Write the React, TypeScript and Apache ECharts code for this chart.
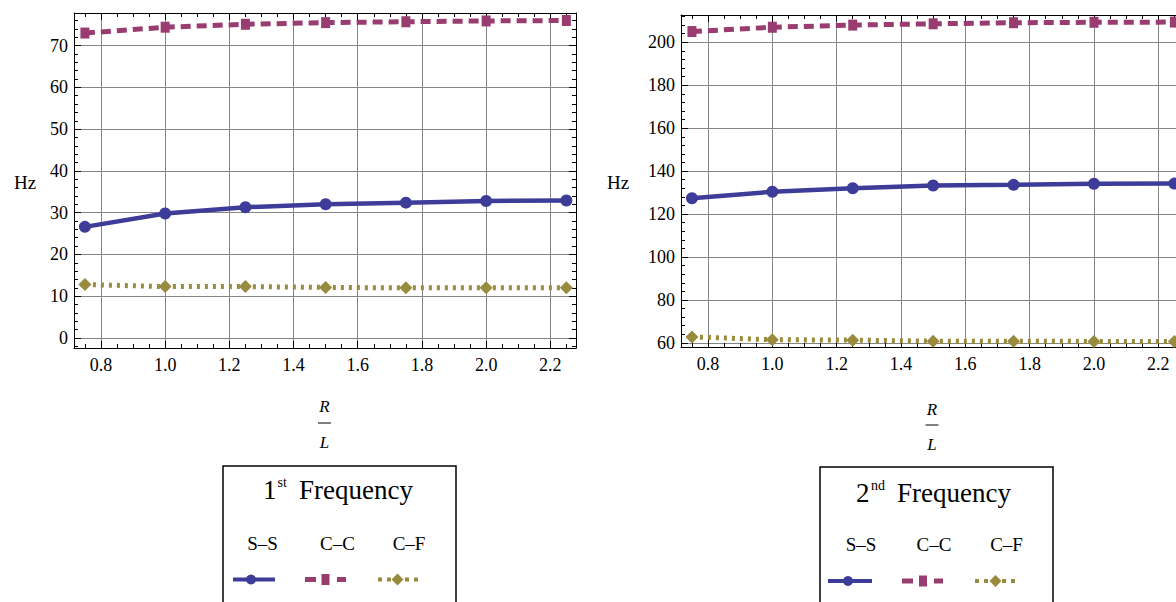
import React, { useEffect, useRef } from "react";
import * as echarts from "echarts";

const ratios = [0.75, 1.0, 1.25, 1.5, 1.75, 2.0, 2.25];
const f1SS = [26.6, 29.8, 31.3, 32.0, 32.4, 32.8, 32.9];
const f1CC = [73.0, 74.4, 75.1, 75.5, 75.7, 75.9, 76.0];
const f1CF = [12.8, 12.3, 12.3, 12.1, 12.0, 12.0, 12.0];
const f2SS = [127.4, 130.4, 132.0, 133.3, 133.6, 134.1, 134.2];
const f2CC = [205.0, 207.0, 208.0, 208.6, 209.1, 209.3, 209.4];
const f2CF = [62.8, 61.5, 61.3, 60.8, 60.8, 60.7, 60.7];
const seriesNames = ["S–S", "C–C", "C–F"];
const panelOrdinals = [["1", "st"], ["2", "nd"]];
const panelWord = "Frequency";
const yUnit = "Hz";

const COLORS = ["#3d3d99", "#993d71", "#998b3d"];
const FONT = "Liberation Serif";

function onStep(v: number, step: number) {
  const q = v / step;
  return Math.abs(q - Math.round(q)) < 1e-6;
}

function txt(x: number, y: number, text: string, size: number, align = "center", italic = false, z = 11) {
  return {
    type: "text", x, y, z,
    style: {
      text, fontFamily: FONT, fontSize: size, fontStyle: italic ? "italic" : "normal",
      fill: "#000", align, verticalAlign: "middle", textAlign: align, textVerticalAlign: "middle",
    },
  };
}

function axesFor(gi: number, ymin: number, ymax: number, yInt: number, yMinor: number) {
  const xmin = 0.716, xmax = 2.28;
  const line = { show: true, onZero: false, lineStyle: { color: "#000", width: 1 } };
  const tick = { show: true, inside: true, length: 7, lineStyle: { color: "#000", width: 1 } };
  const x = [
    {
      type: "value", gridIndex: gi, position: "bottom",
      min: xmin, max: xmax, splitNumber: 8, minInterval: 0.2, maxInterval: 0.2,
      axisLine: line, axisTick: tick,
      minorTick: { show: true, splitNumber: 4, length: 4, lineStyle: { color: "#000", width: 1 } },
      splitLine: { show: true, lineStyle: { color: "#858585", width: 1 } },
      axisLabel: {
        color: "#000", fontFamily: FONT, fontSize: 18, margin: 8,
        formatter: (v: number) => (onStep(v, 0.2) ? v.toFixed(1) : ""),
      },
    },
    {
      type: "value", gridIndex: gi, position: "top",
      min: xmin, max: xmax, splitNumber: 8, minInterval: 0.2, maxInterval: 0.2,
      axisLine: line, axisTick: tick,
      minorTick: { show: true, splitNumber: 4, length: 4, lineStyle: { color: "#000", width: 1 } },
      splitLine: { show: false },
      axisLabel: { show: false },
    },
  ];
  const y = [
    {
      type: "value", gridIndex: gi, position: "left",
      min: ymin, max: ymax, splitNumber: 8, minInterval: yInt, maxInterval: yInt,
      axisLine: line, axisTick: tick,
      minorTick: { show: true, splitNumber: yMinor, length: 4, lineStyle: { color: "#000", width: 1 } },
      splitLine: { show: true, lineStyle: { color: "#858585", width: 1 } },
      axisLabel: {
        color: "#000", fontFamily: FONT, fontSize: 18, margin: 6,
        formatter: (v: number) => (onStep(v, yInt) ? String(Math.round(v)) : ""),
      },
    },
    {
      type: "value", gridIndex: gi, position: "right",
      min: ymin, max: ymax, splitNumber: 8, minInterval: yInt, maxInterval: yInt,
      axisLine: line, axisTick: tick,
      minorTick: { show: true, splitNumber: yMinor, length: 4, lineStyle: { color: "#000", width: 1 } },
      splitLine: { show: false },
      axisLabel: { show: false },
    },
  ];
  return { x, y };
}

function makeSeries(vals: number[][], xi: number, yi: number) {
  const dashes: any[] = ["solid", [10, 6], [3, 5]];
  const widths = [4.5, 5, 5];
  const symbols = ["circle", "rect", "diamond"];
  const sizes: any[] = [12, [9, 11], 13];
  return vals.map((v, k) => ({
    type: "line",
    name: seriesNames[k],
    xAxisIndex: xi,
    yAxisIndex: yi,
    data: ratios.map((r, i) => [r, v[i]]),
    symbol: symbols[k],
    symbolSize: sizes[k],
    showSymbol: true,
    itemStyle: { color: COLORS[k] },
    lineStyle: { color: COLORS[k], width: widths[k], type: dashes[k], cap: "butt" },
    z: 3,
  }));
}

function legendGraphics(
  box: { x: number; y: number },
  title: { ordX: number; supX: number; wordX: number; y: number; supY: number },
  ord: string[],
  labelXs: number[],
  labelY: number,
  sym: { y: number; ss: number[]; cc: number[]; cf: number[] }
) {
  const g: any[] = [];
  g.push({
    type: "rect",
    shape: { x: box.x, y: box.y, width: 233, height: 200 },
    style: { fill: "#fff", stroke: "#000", lineWidth: 1.5 },
    z: 10,
  });
  g.push(txt(title.ordX, title.y, ord[0], 27, "left"));
  g.push(txt(title.supX, title.supY, ord[1], 14, "left"));
  g.push(txt(title.wordX, title.y, panelWord, 27, "left"));
  seriesNames.forEach((n, k) => g.push(txt(labelXs[k], labelY, n, 19, "center")));
  const y = sym.y;
  g.push({ type: "line", z: 11, shape: { x1: sym.ss[0], y1: y, x2: sym.ss[1], y2: y },
    style: { stroke: COLORS[0], lineWidth: 4 } });
  g.push({ type: "circle", z: 12, shape: { cx: sym.ss[2], cy: y, r: 5 }, style: { fill: COLORS[0] } });
  g.push({ type: "line", z: 11, shape: { x1: sym.cc[0], y1: y, x2: sym.cc[0] + 11, y2: y },
    style: { stroke: COLORS[1], lineWidth: 5 } });
  g.push({ type: "line", z: 11, shape: { x1: sym.cc[1] - 9, y1: y, x2: sym.cc[1], y2: y },
    style: { stroke: COLORS[1], lineWidth: 5 } });
  g.push({ type: "rect", z: 12, shape: { x: sym.cc[2] - 4, y: y - 5.5, width: 8, height: 11 }, style: { fill: COLORS[1] } });
  g.push({ type: "line", z: 11, shape: { x1: sym.cf[0], y1: y, x2: sym.cf[1], y2: y },
    style: { stroke: COLORS[2], lineWidth: 4, lineDash: [4, 5] } });
  const c = sym.cf[2];
  g.push({ type: "polygon", z: 12, shape: { points: [[c, y - 6], [c + 6, y], [c, y + 6], [c - 6, y]] }, style: { fill: COLORS[2] } });
  return g;
}

function fraction(cx: number, ry: number, barY: number, ly: number) {
  return [
    txt(cx, ry, "R", 17, "center", true),
    { type: "line", shape: { x1: cx - 6.5, y1: barY, x2: cx + 6.5, y2: barY }, style: { stroke: "#000", lineWidth: 1 } },
    txt(cx, ly, "L", 17, "center", true),
  ];
}

export default function App() {
  const ref = useRef<HTMLDivElement>(null);
  useEffect(() => {
    if (!ref.current) return;
    const chart = echarts.init(ref.current, undefined, { renderer: "svg" });
    const a1 = axesFor(0, -2.4, 77.8, 10, 5);
    const a2 = axesFor(1, 58.1, 212.7, 20, 5);
    const graphic: any[] = [
      txt(25, 182, yUnit, 19),
      txt(618, 182, yUnit, 19),
      ...fraction(324.5, 406, 423, 442.5),
      ...fraction(932, 409, 425, 444),
      ...legendGraphics(
        { x: 223, y: 466 },
        { ordX: 263, supX: 277.5, wordX: 299, y: 489.5, supY: 482 },
        panelOrdinals[0],
        [262.5, 337.5, 409],
        543,
        { y: 579.5, ss: [233, 275, 251], cc: [305, 346, 325.5], cf: [378, 422, 397.5] }
      ),
      ...legendGraphics(
        { x: 820, y: 467 },
        { ordX: 856, supX: 871, wordX: 897, y: 493, supY: 485 },
        panelOrdinals[1],
        [861, 934, 1006.5],
        544,
        { y: 581, ss: [828, 872, 848], cc: [902, 943, 923], cf: [975, 1018, 995.5] }
      ),
    ];
    chart.setOption({
      animation: false,
      backgroundColor: "#fff",
      grid: [
        { left: 74, top: 13, width: 502, height: 335, outerBoundsMode: "none" },
        { left: 681, top: 15, width: 503, height: 332, outerBoundsMode: "none" },
      ],
      xAxis: [...a1.x, ...a2.x],
      yAxis: [...a1.y, ...a2.y],
      series: [
        ...makeSeries([f1SS, f1CC, f1CF], 0, 0),
        ...makeSeries([f2SS, f2CC, f2CF], 2, 2),
      ],
      graphic,
    });
    return () => chart.dispose();
  }, []);
  return (
    <div
      ref={ref}
      style={{ position: "absolute", left: 0, top: 0, width: 1176, height: 602, background: "#fff" }}
    />
  );
}
